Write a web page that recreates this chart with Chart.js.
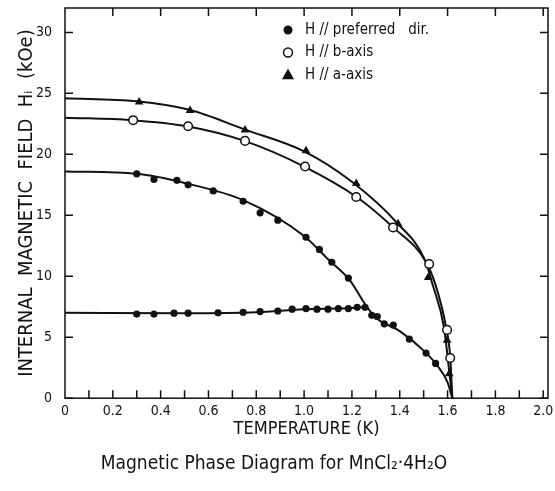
<!DOCTYPE html>
<html>
<head>
<meta charset="utf-8">
<script src="https://cdn.jsdelivr.net/npm/chart.js@4"></script>
<style>
  body { margin: 0; background: #fff; }
</style>
</head>
<body>
<canvas id="chart" width="555" height="491"></canvas>
<script>
// Axis ticks
const xTickValues = [0, 0.2, 0.4, 0.6, 0.8, 1.0, 1.2, 1.4, 1.6, 1.8, 2.0];
const xTickLabels = ['0', '0.2', '0.4', '0.6', '0.8', '1.0', '1.2', '1.4', '1.6', '1.8', '2.0'];
const xMinorTicks = [0.1, 0.2, 0.3, 0.4, 0.5, 0.6, 0.7, 0.8, 0.9, 1.0, 1.1, 1.2, 1.3, 1.4, 1.5, 1.6, 1.7, 1.8, 1.9, 2.0];
const xTopTicks = [0.2, 0.4, 0.6, 0.8, 1.0, 1.2, 1.4, 1.6, 1.8, 2.0];
const yTickValues = [0, 5, 10, 15, 20, 25, 30];

// H // preferred dir. -- measured points
const prefUpperT = [0.30, 0.372, 0.468, 0.515, 0.62, 0.745, 0.816, 0.89, 1.008, 1.064, 1.116, 1.185];
const prefUpperH = [18.4, 17.95, 17.87, 17.5, 17.0, 16.15, 15.2, 14.6, 13.2, 12.2, 11.15, 9.85];
const prefLowerT = [1.283, 1.306, 1.335, 1.373, 1.44, 1.51, 1.55];
const prefLowerH = [6.8, 6.7, 6.1, 6.0, 4.85, 3.7, 2.85];
const spinFlopT = [0.30, 0.372, 0.456, 0.515, 0.64, 0.745, 0.816, 0.89, 0.95, 1.008, 1.054, 1.10, 1.143, 1.185, 1.222, 1.255];
const spinFlopH = [6.9, 6.9, 6.97, 6.97, 7.0, 7.05, 7.1, 7.15, 7.3, 7.35, 7.3, 7.3, 7.35, 7.35, 7.45, 7.45];

// H // b-axis
const bAxisT = [0.285, 0.515, 0.753, 1.004, 1.218, 1.372, 1.523, 1.598, 1.611];
const bAxisH = [22.8, 22.3, 21.1, 19.0, 16.5, 14.0, 11.0, 5.6, 3.3];

// H // a-axis
const aAxisT = [0.31, 0.523, 0.753, 1.008, 1.218, 1.393, 1.519, 1.598, 1.607];
const aAxisH = [24.3, 23.6, 22.0, 20.3, 17.6, 14.3, 9.9, 4.75, 2.0];

// Hand drawn curves through the data
const prefCurveT = [0, 0.3, 0.5, 0.75, 1.0, 1.1, 1.19, 1.262, 1.3, 1.4, 1.5, 1.56, 1.6, 1.62];
const prefCurveH = [18.6, 18.4, 17.65, 16.2, 13.3, 11.4, 9.7, 7.5, 6.6, 5.5, 3.9, 2.6, 1.3, 0];
const spinCurveT = [0, 0.5, 0.8, 1.0, 1.2, 1.262];
const spinCurveH = [7.0, 6.97, 7.05, 7.3, 7.4, 7.5];
const bCurveT = [0, 0.28, 0.51, 0.75, 1.0, 1.22, 1.37, 1.506, 1.548, 1.594, 1.611, 1.62];
const bCurveH = [23.0, 22.8, 22.3, 21.1, 19.0, 16.5, 14.05, 11.3, 9.4, 5.8, 3.4, 0];
const aCurveT = [0, 0.3, 0.52, 0.75, 1.0, 1.2, 1.39, 1.506, 1.536, 1.585, 1.607, 1.62];
const aCurveH = [24.6, 24.35, 23.65, 22.05, 20.25, 17.75, 14.35, 11.3, 9.4, 5.8, 2.2, 0];

const legendLabels = ['H // preferred   dir.', 'H // b-axis', 'H // a-axis'];

const FONT = '"DejaVu Sans Condensed", "DejaVu Sans", sans-serif';
const INK = '#111';

function zip(xs, ys) {
    return xs.map((x, i) => ({ x: x, y: ys[i] }));
}

function curve(xs, ys) {
    return {
        data: zip(xs, ys),
        showLine: true,
        borderColor: INK,
        borderWidth: 2,
        pointRadius: 0,
        cubicInterpolationMode: 'monotone',
        order: 1
    };
}

function drawMarker(ctx, style, x, y, r) {
    ctx.beginPath();
    if (style === 'triangle') {
        ctx.moveTo(x, y - r * 1.1);
        ctx.lineTo(x + r, y + r * 0.7);
        ctx.lineTo(x - r, y + r * 0.7);
        ctx.closePath();
        ctx.fillStyle = INK;
        ctx.fill();
    } else if (style === 'open') {
        ctx.arc(x, y, r, 0, Math.PI * 2);
        ctx.fillStyle = '#fff';
        ctx.fill();
        ctx.lineWidth = 1.5;
        ctx.strokeStyle = INK;
        ctx.stroke();
    } else {
        ctx.arc(x, y, r, 0, Math.PI * 2);
        ctx.fillStyle = INK;
        ctx.fill();
    }
}

// frame, inward ticks and the boxed-in legend
const framePlugin = {
    id: 'frame',
    afterDatasetsDraw(chart) {
        const { ctx, chartArea: a, scales: { x, y } } = chart;
        ctx.save();
        ctx.strokeStyle = INK;
        ctx.lineWidth = 1.5;
        ctx.strokeRect(a.left, a.top, a.width, a.height);
        ctx.beginPath();
        xMinorTicks.forEach(v => {
            const px = x.getPixelForValue(v);
            ctx.moveTo(px, a.bottom);
            ctx.lineTo(px, a.bottom - 8);
        });
        xTopTicks.forEach(v => {
            const px = x.getPixelForValue(v);
            ctx.moveTo(px, a.top);
            ctx.lineTo(px, a.top + 8);
        });
        yTickValues.forEach(v => {
            const py = y.getPixelForValue(v);
            ctx.moveTo(a.left, py);
            ctx.lineTo(a.left + 8, py);
            ctx.moveTo(a.right, py);
            ctx.lineTo(a.right - 8, py);
        });
        ctx.stroke();

        // legend
        const styles = ['filled', 'open', 'triangle'];
        const lx = a.left + 223, ly = a.top + 22;
        ctx.font = '15px ' + FONT;
        ctx.textBaseline = 'middle';
        legendLabels.forEach((label, i) => {
            const yy = ly + i * 22.5;
            drawMarker(ctx, styles[i], lx, yy, styles[i] === 'triangle' ? 6 : 4.5);
            ctx.fillStyle = INK;
            ctx.fillText(label, lx + 17, yy);
        });
        ctx.restore();
    }
};

const ctx = document.getElementById('chart').getContext('2d');
new Chart(ctx, {
    type: 'scatter',
    data: {
        datasets: [
            {
                data: zip(prefUpperT.concat(prefLowerT, spinFlopT), prefUpperH.concat(prefLowerH, spinFlopH)),
                pointStyle: 'circle',
                pointRadius: 3.6,
                backgroundColor: INK,
                borderColor: INK,
                borderWidth: 0,
                order: 0
            },
            {
                data: zip(bAxisT, bAxisH),
                pointStyle: 'circle',
                pointRadius: 4.3,
                backgroundColor: '#fff',
                borderColor: INK,
                borderWidth: 1.5,
                order: 0
            },
            {
                data: zip(aAxisT, aAxisH),
                pointStyle: 'triangle',
                pointRadius: 5,
                backgroundColor: INK,
                borderColor: INK,
                borderWidth: 0,
                order: 0
            },
            curve(prefCurveT, prefCurveH),
            curve(spinCurveT, spinCurveH),
            curve(bCurveT, bCurveH),
            curve(aCurveT, aCurveH)
        ]
    },
    options: {
        responsive: false,
        animation: false,
        layout: { padding: { top: 8, right: 7, left: 0, bottom: 0 } },
        plugins: {
            legend: { display: false },
            tooltip: { enabled: false },
            title: {
                display: true,
                position: 'bottom',
                text: 'Magnetic Phase Diagram for MnCl₂·4H₂O',
                color: INK,
                font: { family: FONT, size: 19, weight: 'normal' },
                padding: { top: 12, bottom: 16 }
            }
        },
        scales: {
            x: {
                type: 'linear',
                min: 0,
                max: 2.02,
                grid: { display: false, drawTicks: false },
                border: { display: false },
                afterBuildTicks: s => { s.ticks = xTickValues.map(v => ({ value: v })); },
                afterFit: s => { s.height = 42; s.paddingLeft = 0; s.paddingRight = 0; },
                ticks: {
                    padding: 5,
                    color: INK,
                    maxRotation: 0,
                    font: { family: FONT, size: 14 },
                    callback: (v, i) => xTickLabels[i]
                },
                title: {
                    display: true,
                    text: 'TEMPERATURE (K)',
                    color: INK,
                    font: { family: FONT, size: 18 },
                    padding: { top: 0, bottom: 0 }
                }
            },
            y: {
                type: 'linear',
                min: 0,
                max: 32,
                grid: { display: false, drawTicks: false },
                border: { display: false },
                afterBuildTicks: s => { s.ticks = yTickValues.map(v => ({ value: v })); },
                afterFit: s => { s.width = 65; s.paddingTop = 0; s.paddingBottom = 0; },
                ticks: {
                    padding: 13,
                    color: INK,
                    font: { family: FONT, size: 14 },
                    callback: v => String(v)
                },
                title: {
                    display: true,
                    text: 'INTERNAL  MAGNETIC  FIELD  Hᵢ  (kOe)',
                    color: INK,
                    font: { family: FONT, size: 20 },
                    padding: { top: 15, bottom: 0 }
                }
            }
        }
    },
    plugins: [framePlugin]
});
</script>
</body>
</html>
